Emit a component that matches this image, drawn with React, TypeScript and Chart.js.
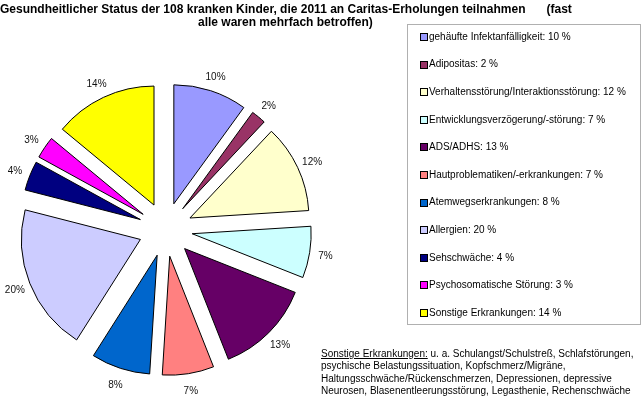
import React, { useEffect, useRef } from 'react';
import { Chart, PieController, ArcElement } from 'chart.js';

Chart.register(PieController, ArcElement);

const categories = [
  'gehäufte Infektanfälligkeit',
  'Adipositas',
  'Verhaltensstörung/Interaktionsstörung',
  'Entwicklungsverzögerung/-störung',
  'ADS/ADHS',
  'Hautproblematiken/-erkrankungen',
  'Atemwegserkrankungen',
  'Allergien',
  'Sehschwäche',
  'Psychosomatische Störung',
  'Sonstige Erkrankungen',
];
const percentages = [10, 2, 12, 7, 13, 7, 8, 20, 4, 3, 14];
const colors = [
  '#9999ff', '#993366', '#ffffcc', '#ccffff', '#660066', '#ff8080',
  '#0066cc', '#ccccff', '#000080', '#ff00ff', '#ffff00',
];
const titleMain = 'Gesundheitlicher Status der 108 kranken Kinder, die 2011 an Caritas-Erholungen teilnahmen';
const titleTail = '(fast';
const titleLine2 = 'alle waren mehrfach betroffen)';
const footnoteHead = 'Sonstige Erkrankungen:';
const footnoteLines = [
  ' u. a. Schulangst/Schulstreß, Schlafstörungen,',
  'psychische Belastungssituation, Kopfschmerz/Migräne,',
  'Haltungsschwäche/Rückenschmerzen, Depressionen, depressive',
  'Neurosen, Blasenentleerungsstörung, Legasthenie, Rechenschwäche',
];

const FONT = '"Liberation Sans", Arial, Helvetica, sans-serif';
const EXPLODE = 27;
const LABEL_GAP = 16;

// top of a span (line-height 1) so that its baseline lands at `baseline`
const topFor = (baseline: number, fs: number) => baseline - 0.8465 * fs;

const explodePlugin = {
  id: 'explodeSlices',
  beforeDatasetDraw(chart: any, args: any) {
    const ctx = chart.ctx;
    args.meta.data.forEach((arc: any) => {
      const mid = (arc.startAngle + arc.endAngle) / 2;
      ctx.save();
      ctx.translate(Math.cos(mid) * EXPLODE, Math.sin(mid) * EXPLODE);
      arc.draw(ctx);
      ctx.restore();
    });
    return false;
  },
};

const labelPlugin = {
  id: 'sliceLabels',
  afterDatasetsDraw(chart: any) {
    const meta = chart.getDatasetMeta(0);
    const ctx = chart.ctx;
    ctx.save();
    ctx.font = `10px ${FONT}`;
    ctx.fillStyle = '#111';
    ctx.textAlign = 'center';
    ctx.textBaseline = 'alphabetic';
    meta.data.forEach((arc: any, i: number) => {
      const mid = (arc.startAngle + arc.endAngle) / 2;
      const r = arc.outerRadius + EXPLODE + LABEL_GAP;
      ctx.fillText(`${percentages[i]}%`, arc.x + Math.cos(mid) * r, arc.y + Math.sin(mid) * r + 4.2);
    });
    ctx.restore();
  },
};

export default function App() {
  const canvasRef = useRef<HTMLCanvasElement>(null);

  useEffect(() => {
    const canvas = canvasRef.current;
    if (!canvas) return;
    const chart = new Chart(canvas, {
      type: 'pie',
      data: {
        labels: categories,
        datasets: [
          {
            data: percentages,
            backgroundColor: colors,
            borderColor: '#000',
            borderWidth: 1,
          },
        ],
      },
      options: {
        responsive: false,
        animation: false,
        events: [],
        radius: 119,
        layout: { padding: { left: 0, right: 313, top: 63, bottom: 1 } },
        plugins: { legend: { display: false }, tooltip: { enabled: false }, title: { display: false } },
      } as any,
      plugins: [explodePlugin, labelPlugin],
    });
    return () => chart.destroy();
  }, []);

  const span = (extra: React.CSSProperties): React.CSSProperties => ({
    position: 'absolute',
    whiteSpace: 'pre',
    lineHeight: 1,
    fontFamily: FONT,
    color: '#000',
    ...extra,
  });

  const legendTop = 24;
  const rowStep = 27.6;

  return (
    <div style={{ position: 'absolute', left: 0, top: 0, width: 644, height: 397, overflow: 'hidden', background: '#fff' }}>
      <canvas ref={canvasRef} width={644} height={397} style={{ position: 'absolute', left: 0, top: 0, width: 644, height: 397 }} />
      <span style={span({ left: 0, top: topFor(12.7, 12), fontSize: 12, fontWeight: 'bold' })}>{titleMain}</span>
      <span style={span({ left: 546.5, top: topFor(12.7, 12), fontSize: 12, fontWeight: 'bold' })}>{titleTail}</span>
      <span style={span({ left: 198, top: topFor(26.3, 12), fontSize: 12, fontWeight: 'bold' })}>{titleLine2}</span>

      <div style={{ position: 'absolute', left: 407, top: legendTop, width: 232, height: 299, border: '1px solid #b0b0b0', boxSizing: 'content-box' }} />
      {categories.map((c, i) => (
        <React.Fragment key={c}>
          <div
            style={{
              position: 'absolute',
              left: 420,
              top: 33 + rowStep * i,
              width: 6,
              height: 6,
              background: colors[i],
              border: '1px solid #000',
            }}
          />
          <span style={span({ left: 429, top: topFor(40.3 + rowStep * i, 10), fontSize: 10 })}>
            {`${c}: ${percentages[i]} %`}
          </span>
        </React.Fragment>
      ))}

      {footnoteLines.map((line, i) => (
        <span key={i} style={span({ left: 321, top: topFor(357.5 + 12.3 * i, 10), fontSize: 10 })}>
          {i === 0 ? <span style={{ textDecoration: 'underline' }}>{footnoteHead}</span> : null}
          {line}
        </span>
      ))}
    </div>
  );
}
